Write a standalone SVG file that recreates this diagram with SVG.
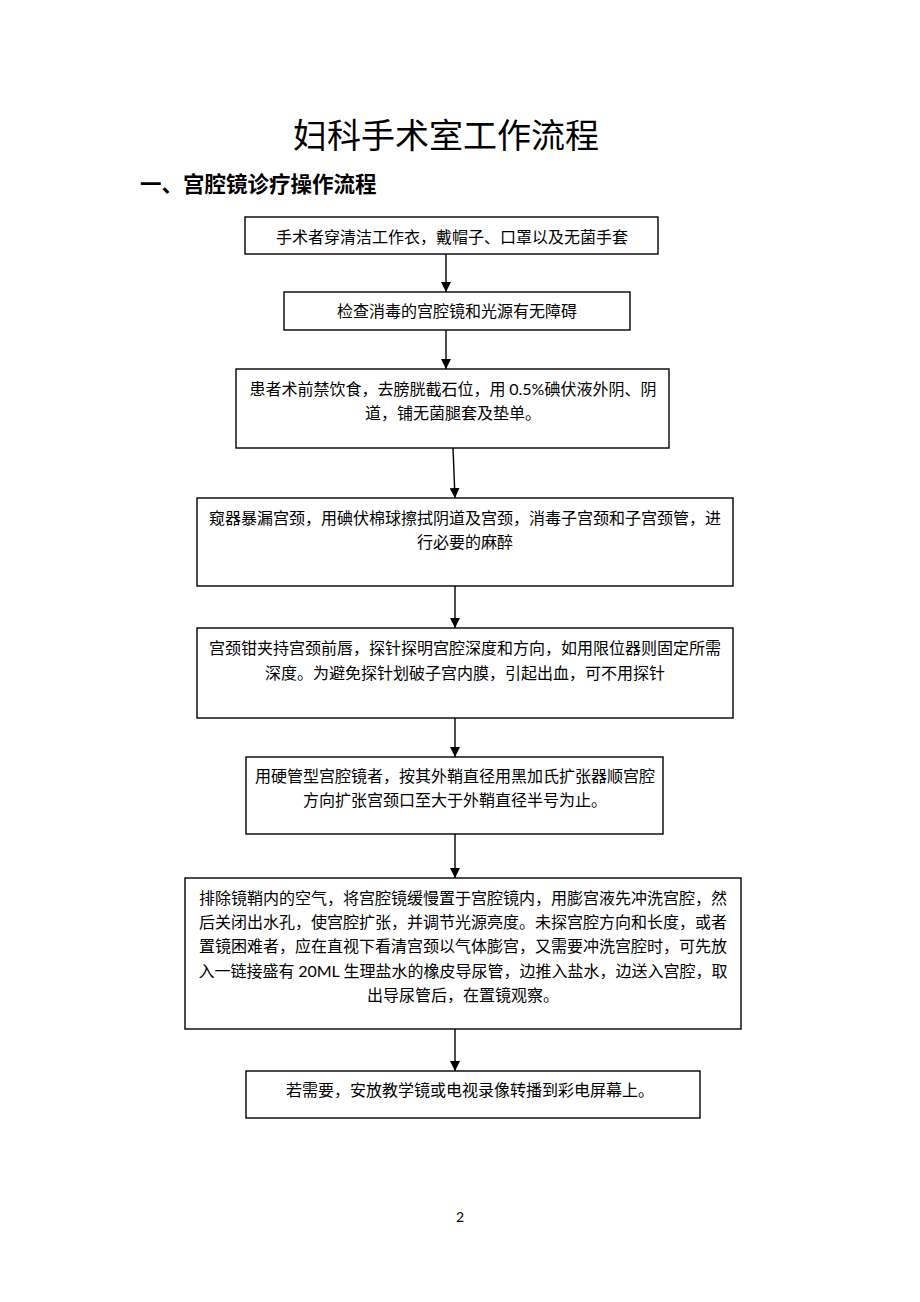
<svg xmlns="http://www.w3.org/2000/svg" width="920" height="1302" viewBox="0 0 920 1302">
<style>
.box{fill:#fff;stroke:#000;stroke-width:1.4}
.t{font-family:"Noto Sans CJK SC","Noto Sans",sans-serif;font-size:16px;fill:#000;text-anchor:middle}
.lat{font-family:Lato,"Liberation Sans",sans-serif}
.con{stroke:#000;stroke-width:1.4;fill:none;marker-end:url(#ah)}
</style>
<defs>
<marker id="ah" viewBox="0 0 10 10" refX="10" refY="5" markerWidth="10" markerHeight="10" markerUnits="userSpaceOnUse" orient="auto">
<path d="M0,0 L10,5 L0,10 z" fill="#000"/>
</marker>
</defs>
<rect width="920" height="1302" fill="#fff"/>
<text x="446" y="148" font-family="Noto Sans CJK SC,sans-serif" font-size="34" text-anchor="middle" fill="#000">妇科手术室工作流程</text>
<text x="140" y="192" font-family="Noto Sans CJK SC,sans-serif" font-size="21.5" font-weight="bold" fill="#000">一、宫腔镜诊疗操作流程</text>

<g id="connectors">
<line class="con" x1="446" y1="254" x2="446" y2="292"/>
<line class="con" x1="446" y1="330" x2="446" y2="369"/>
<line class="con" x1="453" y1="448" x2="455" y2="498"/>
<line class="con" x1="455" y1="586" x2="455" y2="628"/>
<line class="con" x1="455" y1="718" x2="455" y2="757"/>
<line class="con" x1="455" y1="834" x2="455" y2="878"/>
<line class="con" x1="455" y1="1029" x2="455" y2="1071"/>
</g>

<g id="n1">
<rect class="box" x="245" y="217" width="413" height="37"/>
<text class="t" x="452" y="243">手术者穿清洁工作衣，戴帽子、口罩以及无菌手套</text>
</g>
<g id="n2">
<rect class="box" x="284" y="292" width="346" height="38"/>
<text class="t" x="457" y="317">检查消毒的宫腔镜和光源有无障碍</text>
</g>
<g id="n3">
<rect class="box" x="236" y="369" width="433" height="79"/>
<text class="t" x="453" y="395">患者术前禁饮食，去膀胱截石位，用 <tspan class="lat">0.5%</tspan>碘伏液外阴、阴</text>
<text class="t" x="453" y="419">道，铺无菌腿套及垫单。</text>
</g>
<g id="n4">
<rect class="box" x="197" y="498" width="536" height="88"/>
<text class="t" x="465" y="524">窥器暴漏宫颈，用碘伏棉球擦拭阴道及宫颈，消毒子宫颈和子宫颈管，进</text>
<text class="t" x="465" y="548">行必要的麻醉</text>
</g>
<g id="n5">
<rect class="box" x="197" y="628" width="536" height="90"/>
<text class="t" x="465" y="654">宫颈钳夹持宫颈前唇，探针探明宫腔深度和方向，如用限位器则固定所需</text>
<text class="t" x="465" y="679">深度。为避免探针划破子宫内膜，引起出血，可不用探针</text>
</g>
<g id="n6">
<rect class="box" x="246" y="757" width="417" height="77"/>
<text class="t" x="455" y="782">用硬管型宫腔镜者，按其外鞘直径用黑加氏扩张器顺宫腔</text>
<text class="t" x="455" y="806">方向扩张宫颈口至大于外鞘直径半号为止。</text>
</g>
<g id="n7">
<rect class="box" x="185" y="878" width="556" height="151"/>
<text class="t" x="463" y="904">排除镜鞘内的空气，将宫腔镜缓慢置于宫腔镜内，用膨宫液先冲洗宫腔，然</text>
<text class="t" x="463" y="928">后关闭出水孔，使宫腔扩张，并调节光源亮度。未探宫腔方向和长度，或者</text>
<text class="t" x="463" y="952">置镜困难者，应在直视下看清宫颈以气体膨宫，又需要冲洗宫腔时，可先放</text>
<text class="t" x="463" y="977">入一链接盛有 <tspan class="lat">20ML</tspan> 生理盐水的橡皮导尿管，边推入盐水，边送入宫腔，取</text>
<text class="t" x="463" y="1001">出导尿管后，在置镜观察。</text>
</g>
<g id="n8">
<rect class="box" x="246" y="1071" width="454" height="47"/>
<text class="t" x="470" y="1096">若需要，安放教学镜或电视录像转播到彩电屏幕上。</text>
</g>
<text x="460" y="1222" font-family="Lato,Liberation Sans,sans-serif" font-size="14" text-anchor="middle" fill="#000">2</text>
</svg>
